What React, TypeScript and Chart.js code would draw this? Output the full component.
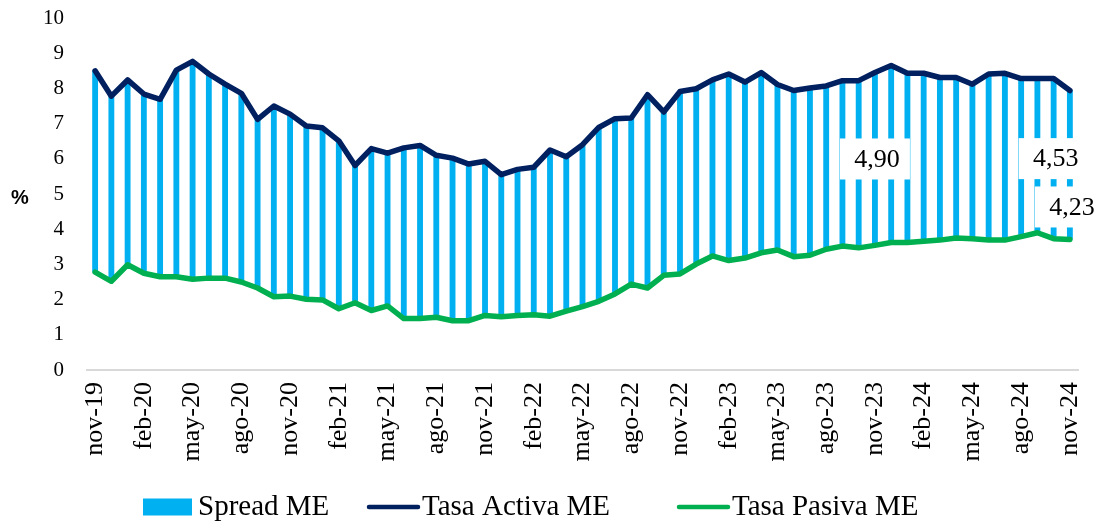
import React, { useEffect, useRef } from 'react';
import { Chart, registerables } from 'chart.js';

Chart.register(...registerables);

const categories = [
  'nov-19', 'dic-19', 'ene-20', 'feb-20', 'mar-20', 'abr-20', 'may-20', 'jun-20', 'jul-20', 'ago-20', 'sep-20', 'oct-20',
  'nov-20', 'dic-20', 'ene-21', 'feb-21', 'mar-21', 'abr-21', 'may-21', 'jun-21', 'jul-21', 'ago-21', 'sep-21', 'oct-21',
  'nov-21', 'dic-21', 'ene-22', 'feb-22', 'mar-22', 'abr-22', 'may-22', 'jun-22', 'jul-22', 'ago-22', 'sep-22', 'oct-22',
  'nov-22', 'dic-22', 'ene-23', 'feb-23', 'mar-23', 'abr-23', 'may-23', 'jun-23', 'jul-23', 'ago-23', 'sep-23', 'oct-23',
  'nov-23', 'dic-23', 'ene-24', 'feb-24', 'mar-24', 'abr-24', 'may-24', 'jun-24', 'jul-24', 'ago-24', 'sep-24', 'oct-24',
  'nov-24',
];

const tasaActiva = [
  8.50, 7.78, 8.24, 7.84, 7.69, 8.52, 8.77, 8.41, 8.12, 7.86,
  7.12, 7.50, 7.27, 6.93, 6.88, 6.51, 5.81, 6.29, 6.16, 6.31,
  6.38, 6.10, 6.02, 5.85, 5.93, 5.55, 5.70, 5.76, 6.25, 6.06,
  6.40, 6.89, 7.14, 7.16, 7.82, 7.33, 7.91, 7.99, 8.24, 8.41,
  8.18, 8.45, 8.11, 7.94, 8.01, 8.07, 8.22, 8.22, 8.45, 8.65,
  8.43, 8.43, 8.31, 8.31, 8.12, 8.41, 8.43, 8.28, 8.28, 8.28,
  7.94,
];

const tasaPasiva = [
  2.78, 2.52, 2.99, 2.75, 2.65, 2.65, 2.58, 2.61, 2.61, 2.50,
  2.33, 2.08, 2.10, 2.01, 1.99, 1.74, 1.91, 1.69, 1.82, 1.46,
  1.46, 1.50, 1.40, 1.40, 1.55, 1.51, 1.55, 1.57, 1.53, 1.67,
  1.80, 1.95, 2.16, 2.44, 2.33, 2.69, 2.73, 3.01, 3.24, 3.11,
  3.18, 3.33, 3.41, 3.22, 3.26, 3.43, 3.52, 3.47, 3.54, 3.62,
  3.62, 3.66, 3.69, 3.75, 3.73, 3.69, 3.69, 3.79, 3.90, 3.73,
  3.71,
];

// Spread data labels shown in the chart (category index + value)
const spreadLabelIndex = [48, 59, 60];
const spreadLabelValue = [4.90, 4.53, 4.23];

const yTicks = [0, 1, 2, 3, 4, 5, 6, 7, 8, 9, 10];

const seriesNames = ['Spread ME', 'Tasa Activa ME', 'Tasa Pasiva ME'];

const COLOR_SPREAD = '#00b0f0';
const COLOR_ACTIVA = '#002060';
const COLOR_PASIVA = '#00b050';
const SERIF = "'Liberation Serif', 'Times New Roman', serif";

const overlayPlugin = {
  id: 'overlay',
  afterDatasetsDraw(chart: any) {
    const ctx = chart.ctx;
    const xs = chart.scales.x;
    const ys = chart.scales.y;
    ctx.save();
    spreadLabelIndex.forEach((idx, k) => {
      const x = xs.getPixelForValue(idx);
      let y = ys.getPixelForValue((tasaActiva[idx] + tasaPasiva[idx]) / 2);
      if (k === 2) y += 42;
      const w = 70;
      const h = 41;
      ctx.fillStyle = '#ffffff';
      ctx.fillRect(x - w / 2, y - h / 2, w, h);
      ctx.fillStyle = '#000000';
      ctx.font = `26px ${SERIF}`;
      ctx.textAlign = 'center';
      ctx.textBaseline = 'middle';
      ctx.fillText(spreadLabelValue[k].toFixed(2).replace('.', ','), x + 2, y + 1);
    });
    ctx.restore();
  },
  afterDraw(chart: any) {
    const ctx = chart.ctx;
    ctx.save();
    // "%" axis marker
    ctx.fillStyle = '#000000';
    ctx.font = "bold 20px 'Liberation Sans', Arial, sans-serif";
    ctx.textAlign = 'center';
    ctx.textBaseline = 'middle';
    ctx.fillText('%', 20, 198);

    // Legend
    const ly = 507;
    ctx.font = `29px ${SERIF}`;
    ctx.textAlign = 'left';
    ctx.textBaseline = 'middle';
    ctx.fillStyle = COLOR_SPREAD;
    ctx.fillRect(143, ly - 8.5, 49, 17);
    ctx.fillStyle = '#000000';
    ctx.fillText(seriesNames[0], 198, ly);

    ctx.lineCap = 'round';
    ctx.lineWidth = 4.5;
    ctx.strokeStyle = COLOR_ACTIVA;
    ctx.beginPath();
    ctx.moveTo(369, ly);
    ctx.lineTo(418, ly);
    ctx.stroke();
    ctx.fillText(seriesNames[1], 422, ly);

    ctx.strokeStyle = COLOR_PASIVA;
    ctx.beginPath();
    ctx.moveTo(679, ly);
    ctx.lineTo(728, ly);
    ctx.stroke();
    ctx.fillText(seriesNames[2], 732, ly);
    ctx.restore();
  },
};

export default function App() {
  const canvasRef = useRef<HTMLCanvasElement | null>(null);

  useEffect(() => {
    if (!canvasRef.current) return;
    const spreadData = tasaPasiva.map((p, i) => [p, tasaActiva[i]]);
    const chart = new Chart(canvasRef.current, {
      type: 'bar',
      data: {
        labels: categories,
        datasets: [
          {
            type: 'line',
            label: seriesNames[1],
            data: tasaActiva,
            borderColor: COLOR_ACTIVA,
            backgroundColor: COLOR_ACTIVA,
            borderWidth: 5.5,
            pointRadius: 0,
            tension: 0,
            borderJoinStyle: 'round',
            borderCapStyle: 'round',
            order: 1,
          } as any,
          {
            type: 'line',
            label: seriesNames[2],
            data: tasaPasiva,
            borderColor: COLOR_PASIVA,
            backgroundColor: COLOR_PASIVA,
            borderWidth: 5.5,
            pointRadius: 0,
            tension: 0,
            borderJoinStyle: 'round',
            borderCapStyle: 'round',
            order: 2,
          } as any,
          {
            type: 'bar',
            label: seriesNames[0],
            data: spreadData as any,
            backgroundColor: COLOR_SPREAD,
            borderWidth: 0,
            barPercentage: 0.36,
            categoryPercentage: 1,
            order: 3,
          } as any,
        ],
      },
      options: {
        responsive: false,
        animation: false,
        devicePixelRatio: 1,
        layout: { padding: { top: 18, right: 23, bottom: 0, left: 0 } },
        plugins: {
          legend: { display: false },
          tooltip: { enabled: false },
        },
        scales: {
          x: {
            offset: true,
            grid: { display: false, drawTicks: false },
            border: { display: true, color: '#d9d9d9', width: 2 },
            ticks: {
              autoSkip: false,
              maxRotation: 90,
              minRotation: 90,
              padding: 12,
              color: '#000000',
              font: { family: SERIF, size: 26 },
              callback: (_v: any, i: number) => (i % 3 === 0 ? categories[i] : ''),
            },
            afterFit: (scale: any) => {
              scale.height = 154;
              scale.paddingLeft = 0;
              scale.paddingRight = 0;
            },
          },
          y: {
            min: 0,
            max: 10,
            grid: { display: false, drawTicks: false },
            border: { display: false },
            afterBuildTicks: (scale: any) => {
              scale.ticks = yTicks.map((v) => ({ value: v }));
            },
            ticks: {
              padding: 23,
              color: '#000000',
              font: { family: SERIF, size: 21 },
            },
            afterFit: (scale: any) => {
              scale.width = 87;
              scale.paddingTop = 0;
              scale.paddingBottom = 0;
            },
          },
        },
      },
      plugins: [overlayPlugin],
    });
    return () => chart.destroy();
  }, []);

  return (
    <div style={{ position: 'absolute', left: 0, top: 0, width: 1101, height: 524, background: '#ffffff' }}>
      <canvas ref={canvasRef} width={1101} height={524} />
    </div>
  );
}
